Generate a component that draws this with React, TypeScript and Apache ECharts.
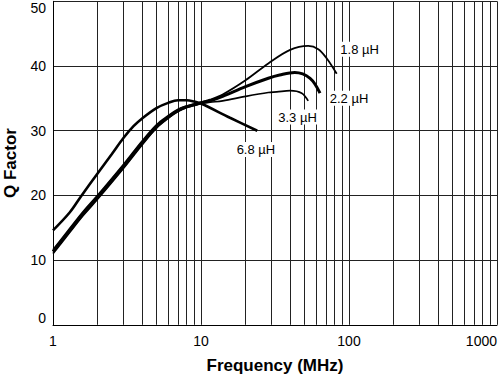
import React, { useEffect, useRef } from "react";
import * as echarts from "echarts";

const FONT = "'Liberation Sans', Arial, Helvetica, sans-serif";

const xTickLabels = ["1", "10", "100", "1000"];
const yTicks = [0, 10, 20, 30, 40, 50];
const minorGrid = [2, 3, 4, 5, 6, 7, 8, 9, 20, 30, 40, 50, 60, 70, 80, 90, 200, 300, 400, 500, 600, 700, 800, 900];

const f18 = [1, 1.3, 1.6, 2, 3, 4, 5, 6, 7, 8, 9, 10, 11.5, 14, 20, 28.5, 40, 53, 62, 70.6, 82.6];
const q18 = [11.6, 14.9, 17.5, 20.0, 24.8, 28.4, 30.9, 32.3, 33.3, 33.8, 34.1, 34.4, 34.8, 35.6, 37.8, 40.4, 42.5, 43.1, 42.6, 41.2, 38.8];

const f22 = [1, 1.3, 1.6, 2, 3, 4, 5, 6, 7, 8, 9, 10, 11.5, 14, 20, 28.5, 34, 43, 54.6, 63.7];
const q22 = [11.3, 14.6, 17.2, 19.7, 24.5, 28.1, 30.6, 32.1, 33.1, 33.7, 34.0, 34.3, 34.6, 35.3, 36.8, 38.1, 38.6, 39.0, 38.1, 35.8];

const f33 = [1, 1.3, 1.6, 2, 3, 4, 5, 6, 7, 8, 9, 10, 11.5, 14, 20, 28.5, 32.5, 40, 48, 53];
const q33 = [11.0, 14.3, 16.9, 19.4, 24.2, 27.8, 30.4, 31.9, 33.0, 33.6, 33.9, 34.2, 34.4, 34.6, 35.3, 35.9, 36.0, 36.2, 35.8, 34.6];

const f68 = [1, 1.3, 1.54, 2, 2.5, 3, 3.5, 4, 5, 6, 7, 8, 9, 10, 15.7, 24];
const q68 = [14.6, 17.4, 19.8, 23.4, 26.4, 28.9, 30.7, 31.9, 33.5, 34.3, 34.7, 34.7, 34.5, 34.2, 32.0, 30.0];

const labels = [
  { text: "1.8 µH", f: 118, q: 42.6 },
  { text: "2.2 µH", f: 100, q: 35.0 },
  { text: "3.3 µH", f: 44.9, q: 32.1 },
  { text: "6.8 µH", f: 23.5, q: 27.1 },
];

const zip = (f: number[], q: number[]) => f.map((v, i) => [v, q[i]]);

export default function App() {
  const ref = useRef<HTMLDivElement>(null);
  useEffect(() => {
    if (!ref.current) return;
    const chart = echarts.init(ref.current, undefined, { renderer: "svg" });
    const curve = (name: string, f: number[], q: number[], width: number, lbl: typeof labels[number]) => ({
      name,
      type: "line",
      data: zip(f, q),
      smooth: 0.35,
      showSymbol: false,
      symbol: "none",
      z: 5,
      lineStyle: { color: "#000", width },
      markPoint: {
        symbol: "rect",
        symbolSize: [1, 1],
        itemStyle: { color: "rgba(0,0,0,0)" },
        z: 6,
        label: {
          show: true,
          position: "inside",
          formatter: lbl.text,
          color: "#000",
          fontFamily: FONT,
          fontSize: 13,
          backgroundColor: "#fff",
          padding: [1, 2],
        },
        data: [{ coord: [lbl.f, lbl.q] }],
      },
    });
    chart.setOption({
      animation: false,
      backgroundColor: "#fff",
      grid: { left: 53, right: 3, top: 1.3, bottom: 54.2, containLabel: false, outerBoundsMode: "none" },
      xAxis: {
        type: "log",
        logBase: 10,
        min: 1,
        max: 1000,
        name: "Frequency (MHz)",
        nameLocation: "middle",
        nameGap: 32,
        nameTextStyle: { fontFamily: FONT, fontSize: 17, fontWeight: "bold", color: "#000" },
        axisLine: { show: true, lineStyle: { color: "#000", width: 1 } },
        axisTick: { show: false },
        axisLabel: {
          fontFamily: FONT,
          fontSize: 14,
          color: "#000",
          margin: 9,
          alignMaxLabel: "right",
          formatter: (v: number) => {
            const s = String(Math.round(v));
            return xTickLabels.includes(s) ? s : "";
          },
        },
        splitLine: { show: true, lineStyle: { color: "#222", width: 1 } },
      },
      yAxis: {
        type: "value",
        min: 0,
        max: 50,
        interval: 10,
        name: "Q Factor",
        nameLocation: "middle",
        nameGap: 34,
        nameTextStyle: { fontFamily: FONT, fontSize: 17, fontWeight: "bold", color: "#000" },
        axisLine: { show: true, lineStyle: { color: "#000", width: 1 } },
        axisTick: { show: false },
        axisLabel: {
          fontFamily: FONT,
          fontSize: 14,
          color: "#000",
          margin: 7,
          verticalAlignMinLabel: "bottom",
          verticalAlignMaxLabel: "top",
          formatter: (v: number) => (yTicks.includes(v) ? String(v) : ""),
        },
        splitLine: { show: true, lineStyle: { color: "#222", width: 1 } },
      },
      series: [
        {
          name: "grid",
          type: "line",
          data: [],
          z: 1,
          silent: true,
          markLine: {
            silent: true,
            symbol: "none",
            label: { show: false },
            lineStyle: { color: "#222", width: 1, type: "solid" },
            data: minorGrid.map((v) => ({ xAxis: v })),
          },
        },
        curve("6.8 µH", f68, q68, 2.6, labels[3]),
        curve("3.3 µH", f33, q33, 1.7, labels[2]),
        curve("2.2 µH", f22, q22, 3, labels[1]),
        curve("1.8 µH", f18, q18, 1.8, labels[0]),
      ],
    });
    return () => chart.dispose();
  }, []);
  return (
    <div
      ref={ref}
      style={{ position: "fixed", left: 0, top: 0, width: 500, height: 379, background: "#fff" }}
    />
  );
}
